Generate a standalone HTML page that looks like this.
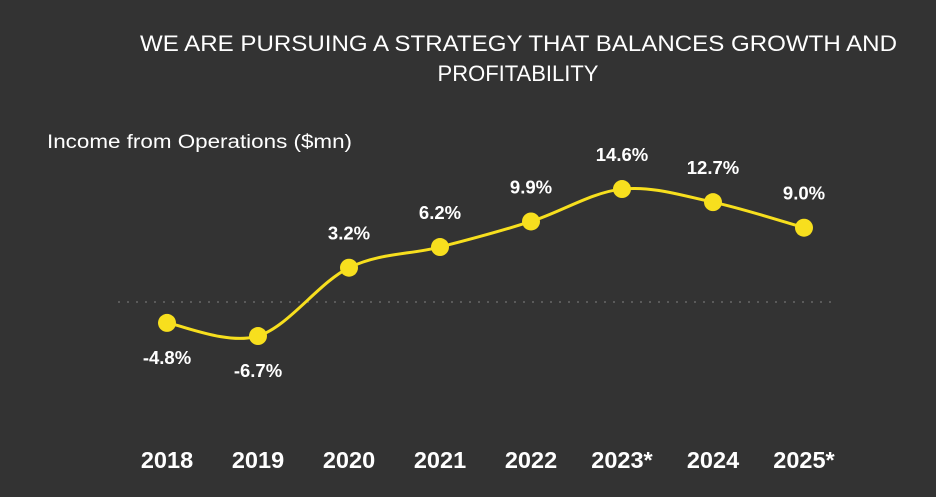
<!DOCTYPE html>
<html><head><meta charset="utf-8"><style>
html,body{margin:0;padding:0;background:#333333;}
body{width:936px;height:492px;overflow:hidden;font-family:"Liberation Sans",sans-serif;}
svg text{font-family:"Liberation Sans",sans-serif;}
</style></head><body>
<svg id="chart" width="936" height="492" viewBox="0 0 936 492" xmlns="http://www.w3.org/2000/svg">
<rect width="936" height="492" fill="#333333"/>
<text x="140" y="51" textLength="757" lengthAdjust="spacingAndGlyphs" fill="#ffffff" font-size="22">WE ARE PURSUING A STRATEGY THAT BALANCES GROWTH AND</text>
<text x="518" y="81" text-anchor="middle" fill="#ffffff" font-size="22">PROFITABILITY</text>
<text x="47" y="148" textLength="305" lengthAdjust="spacingAndGlyphs" fill="#ffffff" font-size="19">Income from Operations ($mn)</text>
<line x1="118" y1="302" x2="836" y2="302" stroke="#5a5a5a" stroke-width="2" stroke-dasharray="2,7"/>
<g id="marks"></g>
</svg>
<script>
const categories = ["2018","2019","2020","2021","2022","2023*","2024","2025*"];
const values = [-4.8,-6.7,3.2,6.2,9.9,14.6,12.7,9.0];
const valueLabels = ["-4.8%","-6.7%","3.2%","6.2%","9.9%","14.6%","12.7%","9.0%"];

const NS="http://www.w3.org/2000/svg";
const g=document.getElementById('marks');
function xScale(i){return 167+i*91;}
function yScale(v){return 289.8-6.9*v;}
function mk(tag,attrs){const e=document.createElementNS(NS,tag);for(const k in attrs)e.setAttribute(k,attrs[k]);return e;}
const pts=values.map((v,i)=>[xScale(i),yScale(v)]);
let d="M"+pts[0][0]+","+pts[0][1];
for(let i=0;i<pts.length-1;i++){
  const p0=pts[Math.max(0,i-1)],p1=pts[i],p2=pts[i+1],p3=pts[Math.min(pts.length-1,i+2)];
  const t=6;
  d+=" C"+(p1[0]+(p2[0]-p0[0])/t)+","+(p1[1]+(p2[1]-p0[1])/t)+" "+(p2[0]-(p3[0]-p1[0])/t)+","+(p2[1]-(p3[1]-p1[1])/t)+" "+p2[0]+","+p2[1];
}
const line=mk('path',{d:d,fill:'none',stroke:'#f7df1e','stroke-width':3});


g.appendChild(line);
values.forEach((v,i)=>{
  const c=mk('circle',{cx:pts[i][0],cy:pts[i][1],r:9,fill:'#f7df1e'});
  
  
  g.appendChild(c);
  const ly=v<0?pts[i][1]+41:pts[i][1]-28;
  const t=mk('text',{x:pts[i][0],y:ly,'text-anchor':'middle',fill:'#ffffff','font-size':18.5,'font-weight':'bold'});
  t.textContent=valueLabels[i];
  
  
  g.appendChild(t);
  const xl=mk('text',{x:pts[i][0],y:468,'text-anchor':'middle',fill:'#ffffff','font-size':23.5,'font-weight':'bold'});
  xl.textContent=categories[i];
  
  
  g.appendChild(xl);
});
</script>
</body></html>
